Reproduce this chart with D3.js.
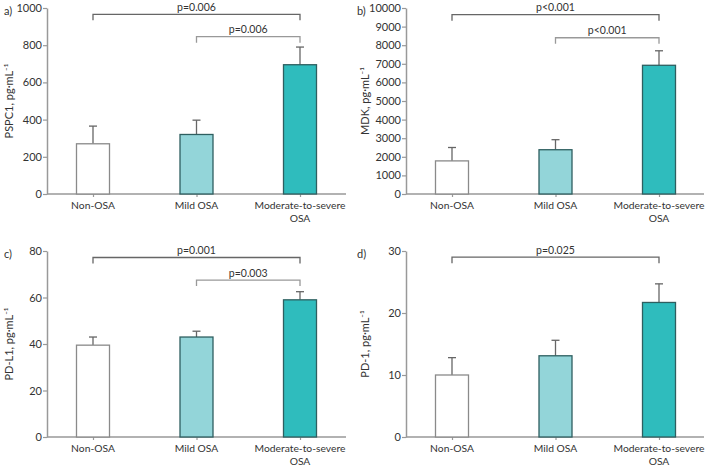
<!DOCTYPE html>
<html><head><meta charset="utf-8">
<script src="https://cdn.jsdelivr.net/npm/d3@7"></script>
<style>body{margin:0;background:#fff}svg{display:block}text{font-family:Lato,"Open Sans",sans-serif;fill:#333}</style>
</head><body>
<svg id="c" width="705" height="469"></svg>
<script>
const categories = ["Non-OSA", "Mild OSA", "Moderate-to-severe\nOSA"];
const panelLetters = ["a)", "b)", "c)", "d)"];
const yTitles = ["PSPC1, pg·mL⁻¹", "MDK, pg·mL⁻¹", "PD-L1, pg·mL⁻¹", "PD-1, pg·mL⁻¹"];
const yMax = [1000, 10000, 80, 30];
const yTickStep = [200, 1000, 20, 10];
const meansA = [270, 320, 695];
const errA = [365, 397, 790];
const meansB = [1780, 2380, 6920];
const errB = [2500, 2920, 7700];
const meansC = [39.5, 43, 59];
const errC = [43, 45.5, 62.5];
const meansD = [10, 13.1, 21.7];
const errD = [12.8, 15.6, 24.7];
// brackets: [fromIndex, toIndex, level(value), label]
const bracketsA = [[0, 2, 966, "p=0.006"], [1, 2, 846, "p=0.006"]];
const bracketsB = [[0, 2, 9640, "p<0.001"], [1, 2, 8400, "p<0.001"]];
const bracketsC = [[0, 2, 77.2, "p=0.001"], [1, 2, 67.5, "p=0.003"]];
const bracketsD = [[0, 2, 29.0, "p=0.025"]];

const means = [meansA, meansB, meansC, meansD];
const errs = [errA, errB, errC, errD];
const brackets = [bracketsA, bracketsB, bracketsC, bracketsD];
const fills = ["#ffffff", "#93d5d9", "#2fbcbd"];
const strokes = ["#8a8a8a", "#2e5f60", "#2e5f60"];

const svg = d3.select("#c");
const panels = [
  {x0: 47, y0: 8, y1: 194, xr: 346},
  {x0: 406, y0: 8, y1: 194, xr: 704},
  {x0: 47, y0: 251, y1: 437, xr: 346},
  {x0: 406, y0: 251, y1: 437, xr: 704}
];

panels.forEach((p, i) => {
  const g = svg.append("g");
  const y = d3.scaleLinear().domain([0, yMax[i]]).range([p.y1, p.y0]);
  const x = d3.scalePoint().domain(categories).range([p.x0 + 46, p.x0 + 253]);
  const bw = 33;

  // y axis
  const ticks = d3.range(0, yMax[i] + yTickStep[i] / 2, yTickStep[i]);
  const ya = g.append("g").attr("transform", `translate(${p.x0},0)`)
    .call(d3.axisLeft(y).tickValues(ticks).tickSize(4).tickSizeOuter(0).tickFormat(d3.format("d")));
  ya.select(".domain").attr("stroke", "#999").attr("stroke-width", 1.5);
  ya.selectAll(".tick line").attr("stroke", "#999").attr("stroke-width", 1.2);
  ya.selectAll(".tick text").attr("font-size", 11).attr("font-family", "Lato, sans-serif").attr("fill", "#333").attr("x", -5);

  // x axis
  const xa = g.append("g").attr("transform", `translate(0,${p.y1})`)
    .call(d3.axisBottom(x).tickSize(3).tickSizeOuter(0).tickFormat(""));
  xa.select(".domain").attr("d", `M${p.x0},0H${p.xr}`).attr("stroke", "#999").attr("stroke-width", 1.5);
  xa.selectAll(".tick line").attr("stroke", "#999").attr("stroke-width", 1.2);
  categories.forEach(c => {
    const lines = c.split("\n");
    const t = g.append("text").attr("x", x(c)).attr("y", p.y1 + 15)
      .attr("text-anchor", "middle").attr("font-size", 10.3);
    lines.forEach((l, k) => t.append("tspan").attr("x", x(c)).attr("dy", k === 0 ? 0 : 13).text(l));
  });

  // error bars
  categories.forEach((c, k) => {
    g.append("line").attr("x1", x(c)).attr("x2", x(c)).attr("y1", y(means[i][k])).attr("y2", y(errs[i][k]))
      .attr("stroke", "#666").attr("stroke-width", 1.3);
    g.append("line").attr("x1", x(c) - 4).attr("x2", x(c) + 4).attr("y1", y(errs[i][k])).attr("y2", y(errs[i][k]))
      .attr("stroke", "#666").attr("stroke-width", 1.3);
  });
  // bars
  g.selectAll("rect.bar").data(categories).join("rect").attr("class", "bar")
    .attr("x", c => x(c) - bw / 2).attr("width", bw)
    .attr("y", (c, k) => y(means[i][k])).attr("height", (c, k) => p.y1 - y(means[i][k]))
    .attr("fill", (c, k) => fills[k]).attr("stroke", (c, k) => strokes[k]).attr("stroke-width", 1.3);

  // brackets
  brackets[i].forEach((b, k) => {
    const xa1 = x(categories[b[0]]), xa2 = x(categories[b[1]]), yy = y(b[2]);
    const col = k === 0 ? "#666" : "#999";
    g.append("path").attr("d", `M${xa1},${yy + 6}V${yy}H${xa2}V${yy + 6}`)
      .attr("fill", "none").attr("stroke", col).attr("stroke-width", 1.3);
    g.append("text").attr("x", (xa1 + xa2) / 2).attr("y", yy - 3.5).attr("text-anchor", "middle")
      .attr("font-size", 10.5).text(b[3]);
  });

  // panel letter & y title
  const lx = i % 2 === 0 ? 4 : 357;
  g.append("text").attr("x", lx).attr("y", p.y0 + 7).attr("font-size", 11).text(panelLetters[i]);
  const tx = (i % 2 === 0 ? 9 : 365);
  g.append("text").attr("transform", `translate(${tx},${(p.y0 + p.y1) / 2}) rotate(-90)`)
    .attr("text-anchor", "middle").attr("dy", "0.35em").attr("font-size", 11).text(yTitles[i]);
});
</script>
</body></html>
